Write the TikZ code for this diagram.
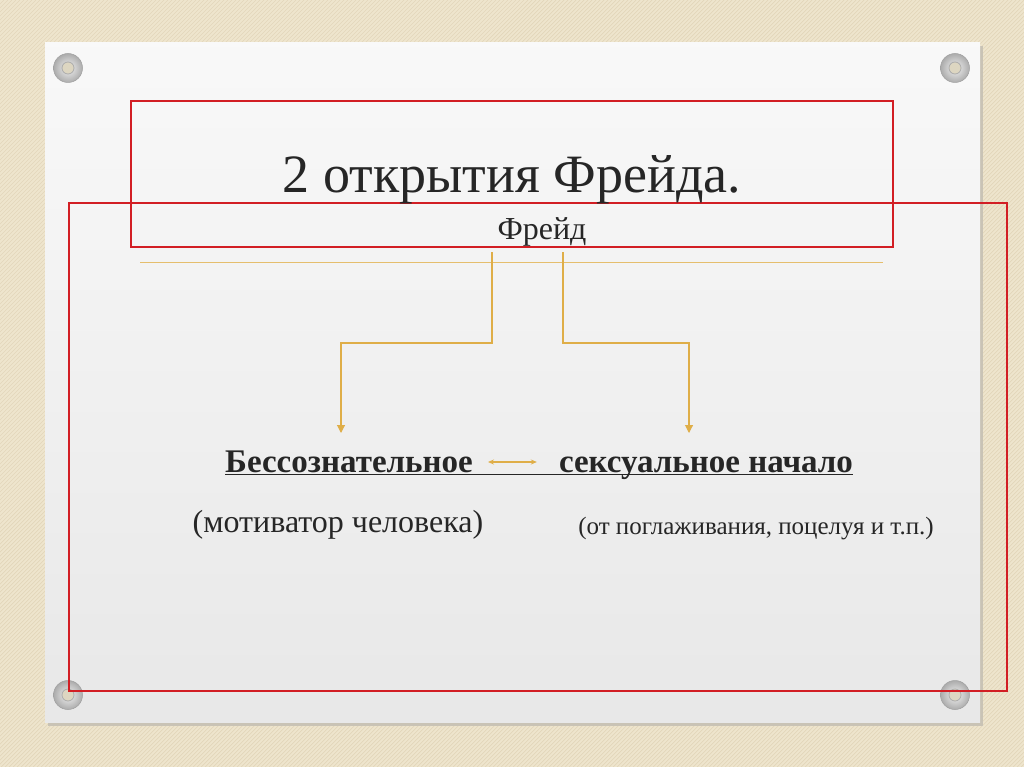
\documentclass[tikz,border=0pt]{standalone}
\usepackage{fontspec}
\setmainfont{Liberation Serif}
\usetikzlibrary{arrows.meta,positioning}

\definecolor{canvas}{HTML}{EEE5CD}
\definecolor{weave}{HTML}{E2D6BA}
\definecolor{shadow}{HTML}{C9C3B5}
\definecolor{paper}{HTML}{EFEFEF}
\definecolor{gold}{HTML}{DFAE48}
\definecolor{redframe}{RGB}{210,30,36}
\definecolor{ink}{HTML}{262626}

\begin{document}
\begin{tikzpicture}[x=1pt,y=-1pt,
    placeholder/.style={draw=redframe,line width=1.8pt},
    link/.style={draw=gold,line width=1.1pt},
    tip/.style={-{Triangle[length=8pt,width=8pt]}},
    word/.style={font=\bfseries\fontsize{33}{38}\selectfont,inner sep=0pt,anchor=base,text=ink},
    note/.style={inner sep=0pt,anchor=base,text=ink}]
  % canvas with a light weave
  \fill[canvas] (0,0) rectangle (1024,767);
  \begin{scope}
    \clip (0,0) rectangle (1024,767);
    \foreach \i in {0,4,...,1800}
      \draw[weave,line width=0.7pt] (\i,0) -- (\i-767,767);
  \end{scope}
  % sheet and its shadow
  \fill[shadow] (48,46) rectangle (983,726);
  \shade[top color=paper!40!white,bottom color=paper!97!black] (45,43) rectangle (980,722);
  % grommets
  \foreach \gx/\gy in {68/68,955/68,68/695,955/695} {
    \shade[inner color=gray!10,outer color=gray!65] (\gx,\gy) circle (14.5);
    \draw[gray!75,line width=0.5pt] (\gx,\gy) circle (14.5);
    \filldraw[draw=gray!65,fill=canvas!85!gray,line width=0.8pt] (\gx,\gy) circle (6);
  }
  % placeholder frames
  \draw[placeholder] (69,203) rectangle (1007,691);
  \draw[placeholder] (131,101) rectangle (893,247);
  % title
  \node[note,font=\fontsize{54}{60}\selectfont] (title) at (512,193) {2 открытия Фрейда.};
  \node[note,font=\fontsize{32}{36}\selectfont] (freud) at (542,240) {Фрейд};
  \coordinate (rule west) at (140,262);
  \coordinate (rule east) at (883,262);
  \draw[gold!80,line width=0.9pt] (rule west) -- (rule east);
  % the two findings
  \node[word] (uncon) at (349,472) {Бессознательное};
  \node[word] (sexual) at (706,472) {сексуальное начало};
  \draw[ink,line width=1.2pt] ([yshift=-2.5pt]uncon.base west) -- ([yshift=-2.5pt]sexual.base east);
  \draw[link,{Stealth[length=6pt,width=5pt]}-{Stealth[length=6pt,width=5pt]}] ([xshift=15pt,yshift=10pt]uncon.base east) -- ([xshift=-22pt,yshift=10pt]sexual.base west);
  \coordinate (fork left) at (492,252);
  \coordinate (fork right) at (563,252);
  \coordinate (knee left) at (341,343);
  \coordinate (knee right) at (689,343);
  \draw[link,tip] (fork left) |- (knee left) -- ([yshift=39pt]knee left |- uncon.base);
  \draw[link,tip] (fork right) |- (knee right) -- ([yshift=39pt]knee right |- sexual.base);
  % remarks
  \node[note,font=\fontsize{32}{36}\selectfont] (motive) at (338,532) {(мотиватор человека)};
  \node[note,font=\fontsize{25}{30}\selectfont] (touch) at (756,534) {(от поглаживания, поцелуя и т.п.)};
\end{tikzpicture}
\end{document}
